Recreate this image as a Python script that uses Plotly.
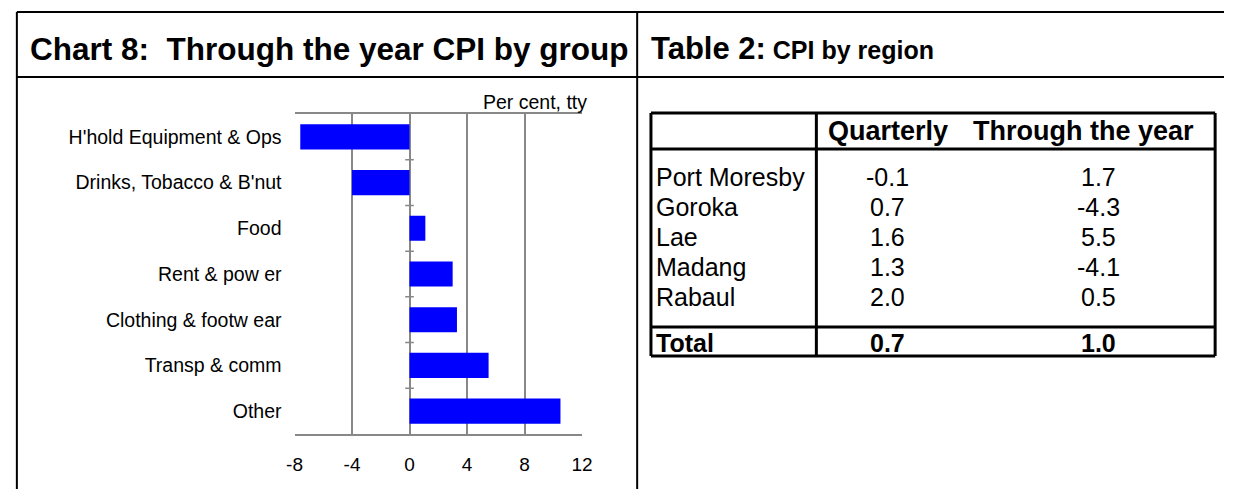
import plotly.graph_objects as go

W, H = 1235, 489

# chart data
groups = [
    "H'hold Equipment & Ops",
    "Drinks, Tobacco & B'nut",
    "Food",
    "Rent & pow er",
    "Clothing & footw ear",
    "Transp & comm",
    "Other",
]
tty_change = [-7.6, -4.0, 1.1, 3.0, 3.3, 5.5, 10.5]
x_ticks = [-8, -4, 0, 4, 8, 12]

# table data
regions = ["Port Moresby", "Goroka", "Lae", "Madang", "Rabaul"]
quarterly = ["-0.1", "0.7", "1.6", "1.3", "2.0"]
through_year = ["1.7", "-4.3", "5.5", "-4.1", "0.5"]
total_label = "Total"
total_quarterly = "0.7"
total_through_year = "1.0"
table_headers = ["Quarterly", "Through the year"]

FONT = "Liberation Sans, Arial, sans-serif"


def px(x):
    return x / W


def py(y):
    return 1 - y / H


fig = go.Figure(go.Bar(
    x=tty_change,
    y=groups,
    orientation="h",
    marker=dict(color="#0000FF", line=dict(width=0)),
    width=0.55,
))

fig.update_layout(
    width=W,
    height=H,
    margin=dict(l=0, r=0, t=0, b=0),
    paper_bgcolor="white",
    plot_bgcolor="white",
    showlegend=False,
    font=dict(family=FONT, color="black"),
    xaxis=dict(
        domain=[px(291), px(583)],
        range=[-8, 12],
        tickvals=x_ticks,
        ticktext=[str(v) for v in x_ticks],
        ticks="",
        showgrid=True,
        gridcolor="#888888",
        gridwidth=2,
        zeroline=False,
        showline=True,
        linecolor="#888888",
        linewidth=2,
        mirror=True,
        tickfont=dict(size=19, family=FONT),
        ticklabelstandoff=12,
    ),
    yaxis=dict(
        domain=[py(434), py(114)],
        categoryorder="array",
        categoryarray=groups,
        autorange="reversed",
        ticks="",
        showgrid=False,
        showline=False,
        tickfont=dict(size=19.5, family=FONT),
        ticklabelstandoff=12,
    ),
)

# small tick marks on the zero line between categories
for i in range(len(groups) - 1):
    fig.add_shape(type="line", xref="x", yref="y",
                  x0=-0.3, x1=0.3, y0=i + 0.5, y1=i + 0.5,
                  line=dict(color="#888888", width=1.5))

fig.add_annotation(x=px(590), y=py(102), xref="paper", yref="paper",
                   text="Per cent, tty", showarrow=False, xanchor="right",
                   yanchor="middle", font=dict(size=19.5, family=FONT))

# panel frame
frame = [
    (9, 12, W, 12),
    (9, 77, W, 77),
    (9, 12, 9, H),
    (639, 12, 639, H),
]
for x0, y0, x1, y1 in frame:
    fig.add_shape(type="line", xref="paper", yref="paper",
                  x0=px(x0), y0=py(y0), x1=px(x1), y1=py(y1),
                  line=dict(color="black", width=2))

fig.add_annotation(x=px(20), y=py(49), xref="paper", yref="paper",
                   text="<b>Chart 8:  Through the year CPI by group</b>",
                   showarrow=False, xanchor="left", yanchor="middle",
                   font=dict(size=31.5, family=FONT))
fig.add_annotation(x=px(651), y=py(49), xref="paper", yref="paper",
                   text="<b><span style='font-size:31px'>Table 2:</span> CPI by region</b>",
                   showarrow=False, xanchor="left", yanchor="middle",
                   font=dict(size=25, family=FONT))

# table
t_left, t_right = 653, 1226
t_top, head_bot = 113, 149
total_top, t_bot = 327, 356
col_div = 821
row_first, row_step = 177, 30

table_lines = [
    (t_left, t_top, t_right, t_top),
    (t_left, head_bot, t_right, head_bot),
    (t_left, total_top, t_right, total_top),
    (t_left, t_bot, t_right, t_bot),
    (t_left, t_top, t_left, t_bot),
    (t_right, t_top, t_right, t_bot),
    (col_div, t_top, col_div, t_bot),
]
for x0, y0, x1, y1 in table_lines:
    fig.add_shape(type="line", xref="paper", yref="paper",
                  x0=px(x0), y0=py(y0), x1=px(x1), y1=py(y1),
                  line=dict(color="black", width=3))

head_x = [894, 1092]
for hx, htxt in zip(head_x, table_headers):
    fig.add_annotation(x=px(hx), y=py(131), xref="paper", yref="paper",
                       text=f"<b>{htxt}</b>", showarrow=False,
                       xanchor="center", yanchor="middle",
                       font=dict(size=27, family=FONT))

q_x, t_x = 893, 1108
for i, (reg, q, t) in enumerate(zip(regions, quarterly, through_year)):
    yy = row_first + row_step * i
    fig.add_annotation(x=px(656), y=py(yy), xref="paper", yref="paper",
                       text=reg, showarrow=False, xanchor="left", yanchor="middle",
                       font=dict(size=25, family=FONT))
    fig.add_annotation(x=px(q_x), y=py(yy), xref="paper", yref="paper",
                       text=q, showarrow=False, xanchor="center", yanchor="middle",
                       font=dict(size=25, family=FONT))
    fig.add_annotation(x=px(t_x), y=py(yy), xref="paper", yref="paper",
                       text=t, showarrow=False, xanchor="center", yanchor="middle",
                       font=dict(size=25, family=FONT))

yy = (total_top + t_bot) / 2 + 1
for xx, txt, anchor in [(656, total_label, "left"), (q_x, total_quarterly, "center"),
                        (t_x, total_through_year, "center")]:
    fig.add_annotation(x=px(xx), y=py(yy), xref="paper", yref="paper",
                       text=f"<b>{txt}</b>", showarrow=False, xanchor=anchor,
                       yanchor="middle", font=dict(size=25, family=FONT))

fig.write_html(
    "out.html",
    config={"displayModeBar": False},
    post_script="document.body.style.margin='0';document.body.style.overflow='hidden';",
)
